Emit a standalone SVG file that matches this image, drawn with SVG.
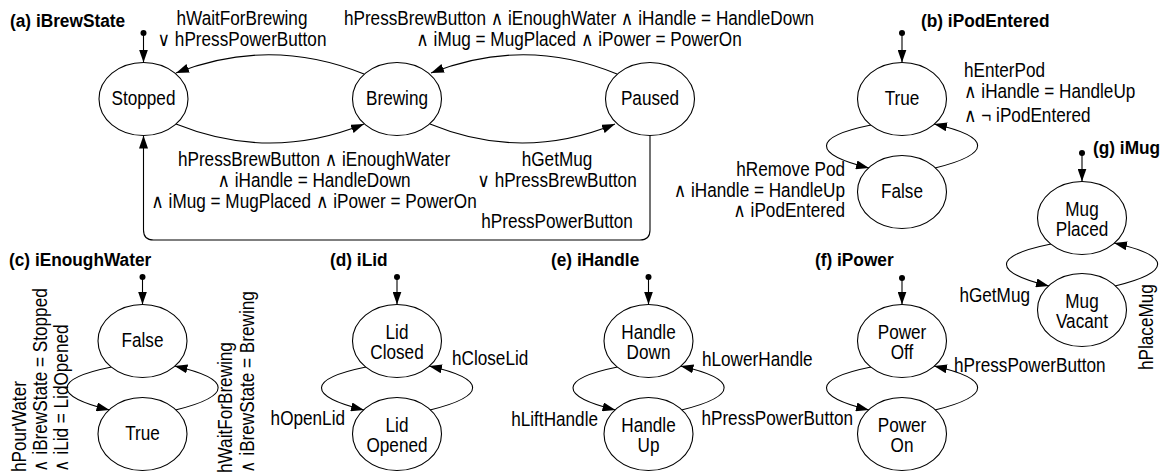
<svg xmlns="http://www.w3.org/2000/svg" width="1160" height="474" viewBox="0 0 1160 474">
<defs>
<marker id="ah" viewBox="0 0 13 9" refX="13" refY="4.5" markerWidth="13" markerHeight="9" markerUnits="userSpaceOnUse" orient="auto"><path d="M0,0 L13,4.5 L0,9 Z" fill="#000"/></marker>
<style>
.n{fill:#fff;stroke:#000;stroke-width:1.1}
.e{fill:none;stroke:#000;stroke-width:1.1;marker-end:url(#ah)}
.l{fill:none;stroke:#000;stroke-width:1.1}
.d{fill:#000}
.t{font-family:"Liberation Sans","DejaVu Sans",Arial,sans-serif;font-size:19.5px;fill:#000}
.h{font-family:"Liberation Sans","DejaVu Sans",Arial,sans-serif;font-size:18px;font-weight:bold;fill:#000}
.c{text-anchor:middle}
.r{text-anchor:end}
</style>
</defs>
<rect width="1160" height="474" fill="#fff"/>

<g id="titles">
<text class="h" transform="translate(10 27) scale(.96 1)">(a) iBrewState</text>
<text class="h" transform="translate(921 27) scale(.96 1)">(b) iPodEntered</text>
<text class="h" transform="translate(9 266) scale(.96 1)">(c) iEnoughWater</text>
<text class="h" transform="translate(330 266) scale(.96 1)">(d) iLid</text>
<text class="h" transform="translate(551 266) scale(.96 1)">(e) iHandle</text>
<text class="h" transform="translate(815 266) scale(.96 1)">(f) iPower</text>
<text class="h" transform="translate(1093 154) scale(.96 1)">(g) iMug</text>
</g>

<g id="connectors">
<!-- initial arrows -->
<g id="init-arrows">
<circle class="d" cx="143.5" cy="33" r="3"/><path class="e" d="M143.5 33 V62.5"/>
<circle class="d" cx="902" cy="33" r="3"/><path class="e" d="M902 33 V62.5"/>
<circle class="d" cx="142.5" cy="277" r="3"/><path class="e" d="M142.5 277 V304.5"/>
<circle class="d" cx="397" cy="277" r="3"/><path class="e" d="M397 277 V304.5"/>
<circle class="d" cx="648.5" cy="277" r="3"/><path class="e" d="M648.5 277 V304.5"/>
<circle class="d" cx="902" cy="278" r="3"/><path class="e" d="M902 278 V304.5"/>
<circle class="d" cx="1082" cy="153" r="3"/><path class="e" d="M1082 153 V181.5"/>
</g>

<!-- (a) -->
<g id="e-brewing-stopped">
<path class="e" d="M364 74 Q270 36 176 73"/>
<text class="t c" transform="translate(242 25) scale(.88 1)"><tspan x="0" y="0">hWaitForBrewing</tspan><tspan x="0" y="21">∨ hPressPowerButton</tspan></text>
</g>
<g id="e-stopped-brewing">
<path class="e" d="M176 124 Q270 162 364 124"/>
<text class="t c" transform="translate(314 166) scale(.88 1)"><tspan x="0" y="0">hPressBrewButton ∧ iEnoughWater</tspan><tspan x="0" y="21">∧ iHandle = HandleDown</tspan><tspan x="0" y="42">∧ iMug = MugPlaced ∧ iPower = PowerOn</tspan></text>
</g>
<g id="e-paused-brewing">
<path class="e" d="M617 74 Q525 36 431 73"/>
<text class="t c" transform="translate(579 25) scale(.88 1)"><tspan x="0" y="0">hPressBrewButton ∧ iEnoughWater ∧ iHandle = HandleDown</tspan><tspan x="0" y="21">∧ iMug = MugPlaced ∧ iPower = PowerOn</tspan></text>
</g>
<g id="e-brewing-paused">
<path class="e" d="M430 124 Q522 162 615 124"/>
<text class="t c" transform="translate(557 166) scale(.88 1)"><tspan x="0" y="0">hGetMug</tspan><tspan x="0" y="21">∨ hPressBrewButton</tspan></text>
</g>
<g id="e-paused-stopped">
<path class="e" d="M650 135.5 V230 Q650 240 640 240 H153.5 Q143.5 240 143.5 230 V135.5"/>
<text class="t c" transform="translate(557 228) scale(.88 1)">hPressPowerButton</text>
</g>

<!-- (b) -->
<g id="e-true-false-b">
<path class="e" d="M871 125 C812 137 812 154 869 168"/>
<text class="t r" transform="translate(845 176) scale(.88 1)"><tspan x="0" y="0">hRemove Pod</tspan><tspan x="0" y="21">∧ iHandle = HandleUp</tspan><tspan x="0" y="41">∧ iPodEntered</tspan></text>
</g>
<g id="e-false-true-b">
<path class="e" d="M935 168 C992 154 992 137 934 124"/>
<text class="t" transform="translate(964 77) scale(.88 1)"><tspan x="0" y="0">hEnterPod</tspan><tspan x="0" y="21">∧ iHandle = HandleUp</tspan><tspan x="0" y="45">∧ ¬ iPodEntered</tspan></text>
</g>

<!-- (c) -->
<g id="e-false-true-c">
<path class="e" d="M111.5 367 C52.5 379 52.5 396 109.5 410"/>
<text class="t" transform="translate(26 472) rotate(-90) scale(.88 1)"><tspan x="0" y="0">hPourWater</tspan><tspan x="0" y="21">∧ iBrewState = Stopped</tspan><tspan x="0" y="42">∧ iLid = LidOpened</tspan></text>
</g>
<g id="e-true-false-c">
<path class="e" d="M175.5 410 C232.5 396 232.5 379 174.5 366"/>
<text class="t" transform="translate(232 473) rotate(-90) scale(.88 1)"><tspan x="0" y="0">hWaitForBrewing</tspan><tspan x="0" y="22">∧ iBrewState = Brewing</tspan></text>
</g>

<!-- (d) -->
<g id="e-closed-opened">
<path class="e" d="M366 367 C307 379 307 396 364 410"/>
<text class="t r" transform="translate(345 425) scale(.88 1)">hOpenLid</text>
</g>
<g id="e-opened-closed">
<path class="e" d="M430 410 C487 396 487 379 429 366"/>
<text class="t" transform="translate(452 365) scale(.88 1)">hCloseLid</text>
</g>

<!-- (e) -->
<g id="e-down-up">
<path class="e" d="M617.5 367 C558.5 379 558.5 396 615.5 410"/>
<text class="t r" transform="translate(598 426) scale(.88 1)">hLiftHandle</text>
</g>
<g id="e-up-down">
<path class="e" d="M681.5 410 C738.5 396 738.5 379 680.5 366"/>
<text class="t" transform="translate(702 366) scale(.88 1)">hLowerHandle</text>
</g>

<!-- (f) -->
<g id="e-off-on">
<path class="e" d="M871 367 C812 379 812 396 869 410"/>
<text class="t r" transform="translate(853 425) scale(.88 1)">hPressPowerButton</text>
</g>
<g id="e-on-off">
<path class="e" d="M935 410 C992 396 992 379 934 366"/>
<text class="t" transform="translate(954 372) scale(.88 1)">hPressPowerButton</text>
</g>

<!-- (g) -->
<g id="e-placed-vacant">
<path class="e" d="M1051 244 C992 256 992 272 1049 286"/>
<text class="t r" transform="translate(1030 302) scale(.88 1)">hGetMug</text>
</g>
<g id="e-vacant-placed">
<path class="e" d="M1115 286 C1172 272 1172 256 1114 243"/>
<text class="t" transform="translate(1153 370) rotate(-90) scale(.88 1)">hPlaceMug</text>
</g>
</g>

<!-- nodes -->
<g id="a-stopped"><ellipse class="n" cx="143.5" cy="99" rx="44.5" ry="36.5"/><text class="t c" transform="translate(143.5 105) scale(.88 1)">Stopped</text></g>
<g id="a-brewing"><ellipse class="n" cx="397" cy="99" rx="44.5" ry="36.5"/><text class="t c" transform="translate(397 105) scale(.88 1)">Brewing</text></g>
<g id="a-paused"><ellipse class="n" cx="650" cy="99" rx="44.5" ry="36.5"/><text class="t c" transform="translate(650 105) scale(.88 1)">Paused</text></g>

<g id="b-true"><ellipse class="n" cx="902" cy="99" rx="44.5" ry="36.5"/><text class="t c" transform="translate(902 105) scale(.88 1)">True</text></g>
<g id="b-false"><ellipse class="n" cx="902" cy="192" rx="44.5" ry="36.5"/><text class="t c" transform="translate(902 198) scale(.88 1)">False</text></g>

<g id="c-false"><ellipse class="n" cx="142.5" cy="341" rx="44.5" ry="36.5"/><text class="t c" transform="translate(142.5 347) scale(.88 1)">False</text></g>
<g id="c-true"><ellipse class="n" cx="142.5" cy="434" rx="44.5" ry="36.5"/><text class="t c" transform="translate(142.5 440) scale(.88 1)">True</text></g>

<g id="d-closed"><ellipse class="n" cx="397" cy="341" rx="44.5" ry="36.5"/><text class="t c" transform="translate(397 338.5) scale(.88 1)"><tspan x="0" y="0">Lid</tspan><tspan x="0" y="20.5">Closed</tspan></text></g>
<g id="d-opened"><ellipse class="n" cx="397" cy="434" rx="44.5" ry="36.5"/><text class="t c" transform="translate(397 431.5) scale(.88 1)"><tspan x="0" y="0">Lid</tspan><tspan x="0" y="20.5">Opened</tspan></text></g>

<g id="e-down"><ellipse class="n" cx="648.5" cy="341" rx="44.5" ry="36.5"/><text class="t c" transform="translate(648.5 338.5) scale(.88 1)"><tspan x="0" y="0">Handle</tspan><tspan x="0" y="20.5">Down</tspan></text></g>
<g id="e-up"><ellipse class="n" cx="648.5" cy="434" rx="44.5" ry="36.5"/><text class="t c" transform="translate(648.5 431.5) scale(.88 1)"><tspan x="0" y="0">Handle</tspan><tspan x="0" y="20.5">Up</tspan></text></g>

<g id="f-off"><ellipse class="n" cx="902" cy="341" rx="44.5" ry="36.5"/><text class="t c" transform="translate(902 338.5) scale(.88 1)"><tspan x="0" y="0">Power</tspan><tspan x="0" y="20.5">Off</tspan></text></g>
<g id="f-on"><ellipse class="n" cx="902" cy="434" rx="44.5" ry="36.5"/><text class="t c" transform="translate(902 431.5) scale(.88 1)"><tspan x="0" y="0">Power</tspan><tspan x="0" y="20.5">On</tspan></text></g>

<g id="g-placed"><ellipse class="n" cx="1082" cy="218" rx="44.5" ry="36.5"/><text class="t c" transform="translate(1082 215.5) scale(.88 1)"><tspan x="0" y="0">Mug</tspan><tspan x="0" y="20.5">Placed</tspan></text></g>
<g id="g-vacant"><ellipse class="n" cx="1082" cy="310" rx="44.5" ry="36.5"/><text class="t c" transform="translate(1082 307.5) scale(.88 1)"><tspan x="0" y="0">Mug</tspan><tspan x="0" y="20.5">Vacant</tspan></text></g>
</svg>
